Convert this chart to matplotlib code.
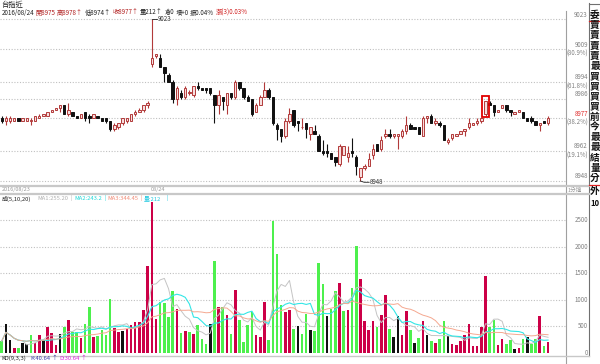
import numpy as np
import pandas as pd
import matplotlib
matplotlib.use("Agg")
import matplotlib.pyplot as plt
from matplotlib.patches import Rectangle

plt.rcParams['font.family'] = ['Noto Sans CJK TC', 'DejaVu Sans']

# 1-minute bars, 36 of 2016/08/23 then 96 of 08/24
opens = [8977, 8976, 8976, 8976, 8977, 8976, 8976, 8976, 8976, 8977, 8978, 8978, 8980, 8981, 8982, 8983,
         8979, 8980, 8978, 8977, 8980, 8978, 8977, 8978, 8977, 8977, 8976, 8972, 8973, 8975, 8976, 8976,
         8979, 8980, 8981, 8983, 9002, 9006, 9005, 9001, 8997, 8994, 8986, 8989, 8987, 8989, 8988, 8992,
         8991, 8991, 8991, 8988, 8983, 8987, 8983, 8989, 8987, 8994, 8991, 8987, 8986, 8980, 8983, 8987,
         8990, 8987, 8974, 8972, 8969, 8976, 8981, 8976, 8973, 8975, 8970, 8971, 8969, 8962, 8962, 8961,
         8959, 8956, 8960, 8959, 8962, 8959, 8950, 8954, 8955, 8960, 8965, 8963, 8969, 8970, 8969, 8969,
         8969, 8971, 8974, 8973, 8973, 8969, 8977, 8978, 8975, 8975, 8974, 8966, 8968, 8969, 8970, 8971,
         8973, 8974, 8975, 8976, 8979, 8984, 8983, 8980, 8982, 8983, 8981, 8979, 8980, 8980, 8977, 8977,
         8976, 8974, 8976, 8975]
highs = [8978, 8978, 8978, 8977, 8977, 8977, 8977, 8977, 8978, 8979, 8979, 8980, 8981, 8982, 8983, 8983,
         8984, 8980, 8978, 8979, 8980, 8979, 8979, 8978, 8977, 8977, 8976, 8975, 8975, 8977, 8977, 8979,
         8981, 8982, 8983, 8985, 9023, 9007, 9007, 9001, 8998, 8995, 8992, 8990, 8992, 8990, 8992, 8994,
         8991, 8991, 8991, 8988, 8990, 8987, 8989, 8989, 8995, 8994, 8991, 8988, 8986, 8984, 8988, 8994,
         8991, 8987, 8975, 8972, 8977, 8982, 8981, 8976, 8977, 8975, 8973, 8974, 8970, 8967, 8965, 8961,
         8959, 8965, 8964, 8964, 8968, 8960, 8954, 8956, 8961, 8965, 8965, 8969, 8972, 8972, 8970, 8970,
         8972, 8978, 8975, 8973, 8973, 8978, 8978, 8979, 8977, 8976, 8974, 8968, 8970, 8970, 8971, 8972,
         8977, 8975, 8977, 8977, 8985, 8985, 8983, 8981, 8983, 8983, 8981, 8980, 8981, 8980, 8977, 8978,
         8976, 8975, 8976, 8978]
lows = [8975, 8974, 8975, 8976, 8976, 8976, 8976, 8974, 8976, 8977, 8978, 8978, 8980, 8981, 8980, 8979,
        8978, 8978, 8977, 8977, 8976, 8975, 8977, 8977, 8976, 8975, 8971, 8971, 8972, 8974, 8975, 8976,
        8978, 8980, 8980, 8982, 9001, 9005, 9001, 8994, 8994, 8984, 8983, 8986, 8986, 8988, 8987, 8990,
        8990, 8989, 8988, 8975, 8979, 8981, 8979, 8986, 8986, 8990, 8986, 8985, 8978, 8980, 8983, 8987,
        8986, 8974, 8967, 8966, 8968, 8975, 8973, 8971, 8972, 8968, 8967, 8970, 8962, 8960, 8959, 8958,
        8955, 8955, 8960, 8957, 8959, 8951, 8948, 8953, 8955, 8958, 8962, 8962, 8968, 8968, 8968, 8963,
        8968, 8970, 8972, 8972, 8970, 8969, 8975, 8975, 8974, 8973, 8967, 8965, 8967, 8969, 8970, 8969,
        8972, 8974, 8974, 8975, 8978, 8983, 8978, 8980, 8982, 8980, 8978, 8979, 8980, 8977, 8976, 8975,
        8974, 8971, 8975, 8974]
closes = [8976, 8977, 8977, 8977, 8976, 8977, 8977, 8976, 8978, 8978, 8979, 8980, 8981, 8982, 8983, 8979,
          8981, 8978, 8977, 8979, 8977, 8977, 8979, 8977, 8976, 8976, 8972, 8974, 8975, 8977, 8977, 8979,
          8980, 8981, 8983, 8984, 9005, 9007, 9001, 8998, 8994, 8986, 8991, 8987, 8991, 8989, 8992, 8991,
          8990, 8990, 8989, 8983, 8988, 8985, 8989, 8987, 8994, 8991, 8987, 8985, 8979, 8983, 8987, 8990,
          8987, 8975, 8972, 8969, 8976, 8979, 8974, 8975, 8973, 8972, 8973, 8970, 8962, 8961, 8961, 8958,
          8957, 8964, 8964, 8961, 8961, 8955, 8954, 8955, 8958, 8963, 8962, 8967, 8970, 8969, 8970, 8970,
          8971, 8974, 8972, 8972, 8970, 8977, 8978, 8975, 8976, 8974, 8967, 8967, 8970, 8970, 8971, 8972,
          8975, 8975, 8976, 8977, 8985, 8983, 8980, 8981, 8983, 8981, 8980, 8980, 8981, 8977, 8976, 8976,
          8974, 8975, 8975, 8977]
volumes = [219, 550, 237, 81, 94, 175, 156, 325, 175, 331, 237, 487, 375, 137, 362, 487,
           625, 387, 387, 281, 550, 862, 300, 312, 425, 325, 1012, 468, 393, 418, 456, 531,
           575, 575, 800, 1637, 2843, 643, 950, 937, 668, 1156, 825, 375, 418, 387, 362, 531,
           250, 156, 550, 1731, 862, 862, 706, 356, 1187, 625, 200, 531, 768, 343, 293, 950,
           237, 2487, 1862, 906, 762, 800, 450, 512, 356, 737, 437, 406, 1687, 1300, 687, 825,
           1156, 1312, 781, 800, 1218, 2012, 1393, 593, 437, 606, 487, 706, 1081, 450, 300, 700,
           343, 781, 425, 187, 281, 593, 343, 219, 187, 262, 606, 312, 169, 137, 219, 331,
           550, 125, 125, 481, 1450, 481, 625, 137, 268, 156, 237, 75, 81, 250, 293, 169,
           268, 687, 125, 206]
# r = outer (red), g = inner (green), k = neutral
vol_side = "".join(["gkkrgkkgrr", "krrrkgrggr", "ggrggggrrk", "rrrrrrrrgg", "ggrgrgrggg",
                    "kgrgrgrggg", "grrrggggrr", "gkggkgggkg", "grgrggrrrr", "grrgkkrrgk",
                    "grkgrggkrr", "rrrrrrrggr", "rggkrgkggr", "gr"])

fib_levels = [9023, 9009, 8994, 8986, 8977, 8962, 8948]
fib_pct = ["", "(80.9%)", "(61.8%)", "", "(38.2%)", "(19.1%)", ""]
vol_ticks = [0, 500, 1000, 1500, 2000, 2500]
side_chars = "委賣賣賣賣最買買買買前今最最結量分外"

n = len(opens)
x = np.arange(n)
o = np.array(opens); c = np.array(closes); h = np.array(highs); l = np.array(lows)
up = c >= o

W, H = 600, 364
fig = plt.figure(figsize=(W / 100, H / 100), dpi=100)
renderer = fig.canvas.get_renderer()


def fx(px):
    return px / W


def fy(py):
    return 1 - py / H


def text_row(items, py, size):
    # put pieces left to right, never letting one run into the next
    end = 0
    for px, txt, col in items:
        px = max(px, end + 1.5)
        t = fig.text(fx(px), fy(py), txt, fontsize=size, color=col, va='center')
        bb = t.get_window_extent(renderer)
        end = bb.x1


RED_EDGE = '#B23A3A'
RED_FILL = '#F6DEDE'

# ---- price panel
ax = fig.add_axes([0, fy(184), fx(566), fy(11) - fy(184)])
ax.set_xlim(-0.41, 135.3)
ax.set_ylim(8946.6, 9026.8)
for lv in fib_levels:
    ax.axhline(lv, color='#C0C0C0', lw=0.8, ls=(0, (1, 1.5)), zorder=0)

wick_col = np.where(up, RED_EDGE, '#111111')
ax.vlines(x, l, h, colors=wick_col, lw=0.8, zorder=1)
body_bot = np.minimum(o, c)
body_h = np.maximum(np.abs(c - o), 0.15)
ax.bar(x[up], body_h[up], 0.58, bottom=body_bot[up], facecolor=RED_FILL,
       edgecolor=RED_EDGE, lw=0.7, zorder=2)
ax.bar(x[~up], body_h[~up], 0.58, bottom=body_bot[~up], facecolor='#111111',
       edgecolor='#111111', lw=0.7, zorder=2)

# high / low annotations
hi = int(np.argmax(h)); lo = int(np.argmin(l))
ax.plot([hi, hi + 1.35], [h[hi], h[hi]], color='#222222', lw=0.6, clip_on=False)
ax.text(hi + 1.45, h[hi], f"{h[hi]}", fontsize=4.4, color='#333333', va='center', ha='left',
        clip_on=False)
ax.plot([lo, lo + 0.9, lo + 2.1], [l[lo], l[lo] - 0.6, l[lo] - 0.6], color='#222222', lw=0.6,
        clip_on=False)
ax.text(lo + 2.2, l[lo] - 0.6, f"{l[lo]}", fontsize=4.4, color='#333333', va='center', ha='left',
        clip_on=False)

# highlighted bar
box_i = 116
ax.add_patch(Rectangle((box_i - 0.95, l[box_i] - 0.5), 1.9, h[box_i] - l[box_i] + 3,
                       fill=False, edgecolor='#E00000', lw=1.3, zorder=3))

ax.set_xticks([]); ax.set_yticks([])
for s in ax.spines.values():
    s.set_visible(False)

ytr = ax.get_yaxis_transform()
for lv, pct in zip(fib_levels, fib_pct):
    col = '#E03030' if lv == closes[-1] else '#808080'
    ax.text(588 / 566, lv + 0.3, f"{lv}", transform=ytr, fontsize=4.4, color=col,
            ha='right', va='bottom', clip_on=False)
    if pct:
        ax.text(588 / 566, lv - 0.3, pct, transform=ytr, fontsize=4.4, color='#808080',
                ha='right', va='top', clip_on=False)

# ---- volume panel
av = fig.add_axes([0, fy(355), fx(566), fy(196) - fy(355)])
av.set_xlim(-0.41, 135.3)
av.set_ylim(-43, 2957)
for t in vol_ticks[1:]:
    av.axhline(t, color='#C0C0C0', lw=0.8, ls=(0, (1, 1.5)), zorder=0)
cmap = {'r': '#CC0047', 'g': '#4DF04D', 'k': '#111111'}
av.bar(x, volumes, 0.62, color=[cmap[s] for s in vol_side], zorder=2)
vs = pd.Series(volumes, dtype=float)
av.plot(x, vs.rolling(5, min_periods=1).mean(), color='#C4C4C4', lw=0.7, zorder=3)
av.plot(x, vs.rolling(10, min_periods=1).mean(), color='#33E6E6', lw=0.8, zorder=3)
av.plot(x, vs.rolling(20, min_periods=1).mean(), color='#F5A890', lw=0.7, zorder=3)
av.set_xticks([]); av.set_yticks([])
for s in av.spines.values():
    s.set_visible(False)
vtr = av.get_yaxis_transform()
for t in vol_ticks:
    av.text(588 / 566, t, f"{t}", transform=vtr, fontsize=4.4, color='#808080',
            ha='right', va='center', clip_on=False)

# ---- frame lines
fig.add_artist(plt.Line2D([fx(566), fx(566)], [fy(11), fy(364)], color='#A0A0A0', lw=0.8))
fig.add_artist(plt.Line2D([fx(589), fx(589)], [fy(3), fy(356)], color='#707070', lw=0.8))
fig.add_artist(plt.Line2D([fx(589), fx(600)], [fy(4), fy(4)], color='#707070', lw=0.8))
for yy in (186.5, 193.5):
    fig.add_artist(plt.Line2D([0, fx(589)], [fy(yy), fy(yy)], color='#C8C8C8', lw=1.6))
fig.add_artist(plt.Line2D([0, fx(589)], [fy(355.5), fy(355.5)], color='#C8C8C8', lw=1.0))
fig.add_artist(plt.Line2D([fx(589), fx(600)], [fy(21), fy(21)], color='#E02020', lw=0.9))
fig.add_artist(plt.Line2D([fx(589), fx(600)], [fy(184.5), fy(184.5)], color='#E02020', lw=0.9))

# date strip
fig.text(fx(2), fy(190), "2016/08/23", fontsize=4.0, color='#999999', va='center')
fig.text(fx(151), fy(190), "08/24", fontsize=4.0, color='#999999', va='center')
fig.text(fx(568), fy(190), "1分鐘", fontsize=4.0, color='#999999', va='center')

# header
fig.text(fx(1), fy(5), "台指近", fontsize=5.2, color='#222222', va='center')
header = [(1, "2016/08/24", '#222222'), (31, "開8975", '#B22222'), (51, "高8978↑", '#B22222'),
          (77, "低8974↑", '#222222'), (102, "收8977↑", '#B22222'), (128, "量212↑", '#222222'),
          (149, "倉0", '#222222'), (159, "增+0", '#222222'), (170, "振0.04%", '#222222'),
          (192, "漲(3)0.03%", '#D02020')]
text_row(header, 12.5, 4.5)

vol_hdr = [(1, "成(5,10,20)", '#222222'), (37, "MA1:255.20", '#B0B0B0'), (70, "|", '#B0B0B0'),
           (74, "MA2:243.2", '#20D8D8'), (104, "|", '#20D8D8'), (107, "MA3:344.45", '#F08C78'),
           (140, "|", '#F08C78'), (144, "量:212", '#20C8E0'), (166, "|", '#20C8E0')]
text_row(vol_hdr, 198.5, 4.2)

kd_hdr = [(1, "KD(9,3,3)", '#222222'), (30, "K:40.64", '#3A3AA8'), (51, "↑", '#3A3AA8'),
          (56, "D:30.64", '#E020E0'), (78, "↑", '#E020E0')]
text_row(kd_hdr, 358.5, 4.2)

# side column
ys = list(np.linspace(15, 178, 17)) + [191]
for yy, ch in zip(ys, side_chars):
    fig.text(fx(595), fy(yy), ch, fontsize=7, fontweight='bold', color='#111111',
             ha='center', va='center')
fig.text(fx(595), fy(203), "10", fontsize=5.5, fontweight='bold', color='#111111',
         ha='center', va='center')

fig.savefig("out.png", dpi=100)
